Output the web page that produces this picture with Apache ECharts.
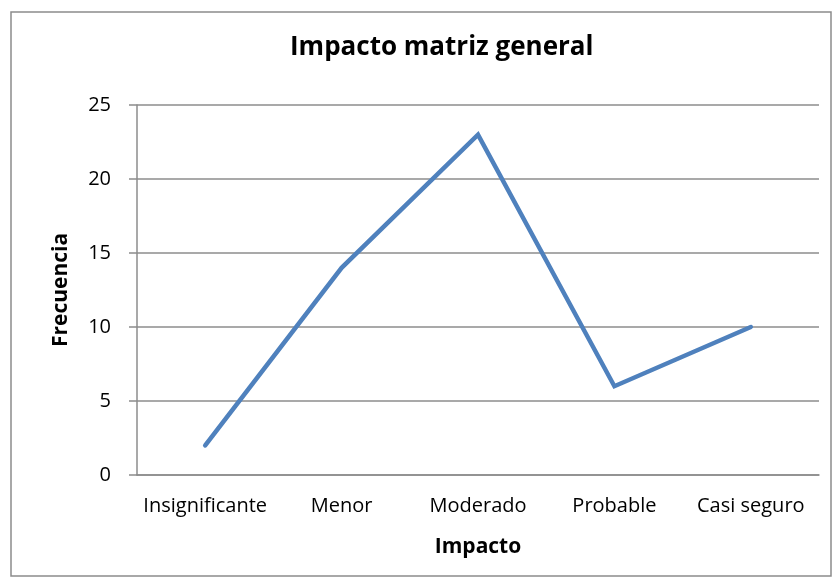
<!DOCTYPE html>
<html>
<head>
<meta charset="utf-8">
<script src="https://cdn.jsdelivr.net/npm/echarts@6/dist/echarts.min.js"></script>
<style>
  html, body { margin: 0; padding: 0; background: #fff; }
  #chart { width: 836px; height: 586px; }
</style>
</head>
<body>
<div id="chart"></div>
<script>
// datos
var categorias = ['Insignificante', 'Menor', 'Moderado', 'Probable', 'Casi seguro']
var frecuencia = [2, 14, 23, 6, 10]

var font = '"Open Sans", "Liberation Sans", sans-serif'
var myChart = echarts.init(document.getElementById('chart'))
myChart.setOption({
  animation: false,
  title: {
    text: 'Impacto matriz general',
    left: 285,
    top: 30,
    textStyle: { fontFamily: font, fontSize: 26, fontWeight: 'bold', color: '#000' }
  },
  graphic: [
    {
      type: 'rect',
      shape: { x: 11, y: 12, width: 820, height: 564 },
      style: { fill: 'none', stroke: '#8c8c8c', lineWidth: 1.5 },
      z: -1
    }
  ],
  grid: { left: 137, right: 17, top: 105, bottom: 111 },
  xAxis: {
    type: 'category',
    data: categorias,
    boundaryGap: true,
    name: 'Impacto',
    nameLocation: 'middle',
    nameGap: 62,
    nameTextStyle: { fontFamily: font, fontSize: 21, fontWeight: 'bold', color: '#000' },
    axisLine: { lineStyle: { color: '#8c8c8c', width: 1.5 } },
    axisTick: { show: false },
    axisLabel: { fontFamily: font, fontSize: 20, color: '#000', margin: 21, interval: 0 }
  },
  yAxis: {
    type: 'value',
    min: 0,
    max: 25,
    interval: 5,
    name: 'Frecuencia',
    nameLocation: 'middle',
    nameGap: 65,
    nameTextStyle: { fontFamily: font, fontSize: 21, fontWeight: 'bold', color: '#000' },
    axisLine: { show: true, lineStyle: { color: '#8c8c8c', width: 1.5 } },
    axisTick: { show: true, length: 8, lineStyle: { color: '#8c8c8c', width: 1.5 } },
    axisLabel: { fontFamily: font, fontSize: 20, color: '#000', margin: 26 },
    splitLine: { lineStyle: { color: '#8c8c8c', width: 1.5 } }
  },
  series: [
    {
      type: 'line',
      data: frecuencia,
      symbol: 'none',
      lineStyle: { color: '#4F81BD', width: 4.5, cap: 'round', join: 'miter' }
    }
  ]
})
</script>
</body>
</html>
